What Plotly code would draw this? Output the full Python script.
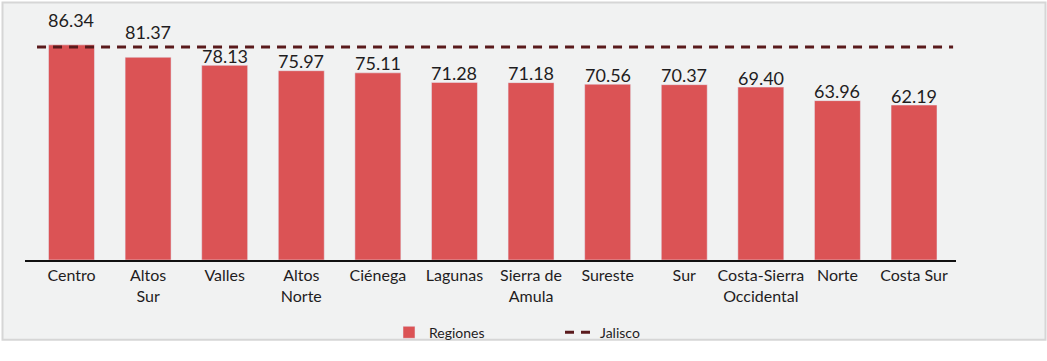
import plotly.graph_objects as go

# Regional values and the state-wide reference value
regions = ["Centro", "Altos<br>Sur", "Valles", "Altos<br>Norte", "Ciénega", "Lagunas",
           "Sierra de<br>Amula", "Sureste", "Sur", "Costa-Sierra<br>Occidental", "Norte", "Costa Sur"]
values = [86.34, 81.37, 78.13, 75.97, 75.11, 71.28, 71.18, 70.56, 70.37, 69.40, 63.96, 62.19]
jalisco = 85.49

FONT = "Lato, Roboto, sans-serif"
BAR = "#db5355"
LINE = "#5a1a1c"
BG = "#f1f2f2"
TXT = "#1f1d1e"

W, H = 1047, 361
ML, MR, MT, MB = 25, 91, 20, 87
plot_w = W - ML - MR
plot_h = H - MT - MB

idx = list(range(len(regions)))

fig = go.Figure()
fig.add_trace(go.Bar(
    x=idx, y=values, name="Regiones", marker_color=BAR, width=0.6,
    hoverinfo="skip",
))
fig.add_trace(go.Scatter(
    x=[-0.45, len(regions) - 0.49], y=[jalisco, jalisco], mode="lines", name="Jalisco",
    line=dict(color=LINE, width=3, dash="9px,7px"), hoverinfo="skip",
))

# value labels above each bar (first two lifted clear of the reference line)
for i, v in enumerate(values):
    fig.add_annotation(
        x=i, y=v, text=f"{v:.2f}", showarrow=False, xanchor="center", yanchor="bottom",
        yshift=12 if i < 2 else -3.5, font=dict(family=FONT, size=18, color=TXT),
    )

fig.add_annotation(
    x=len(regions) - 0.4, y=jalisco, text=f"<b>{jalisco:.2f}</b>", showarrow=False,
    xanchor="left", yanchor="middle", font=dict(family=FONT, size=19, color="#111111"),
)

# panel background with a light border
def px_to_paper_x(p):
    return (p - ML) / plot_w

def px_to_paper_y(p):
    return (H - MB - p) / plot_h

fig.add_shape(
    type="rect", xref="paper", yref="paper", layer="below",
    x0=px_to_paper_x(2.5), x1=px_to_paper_x(1045.5),
    y0=px_to_paper_y(358.5), y1=px_to_paper_y(1.5),
    fillcolor=BG, line=dict(color="#d6d6d6", width=2),
)

ppu = 2.637
fig.update_layout(
    width=W, height=H,
    margin=dict(l=ML, r=MR, t=MT, b=MB),
    paper_bgcolor="white", plot_bgcolor="rgba(0,0,0,0)",
    showlegend=True,
    legend=dict(
        orientation="h", x=px_to_paper_x(389), y=px_to_paper_y(334), xanchor="left", yanchor="top",
        font=dict(family=FONT, size=14, color=TXT), bgcolor="rgba(0,0,0,0)",
        entrywidth=126, traceorder="normal",
    ),
    xaxis=dict(
        range=[-0.607, 11.548], tickmode="array", tickvals=idx, ticktext=regions,
        showline=True, linecolor="#111111", linewidth=1.5, showgrid=False, zeroline=False,
        ticks="", tickfont=dict(family=FONT, size=16, color=TXT), fixedrange=True,
    ),
    yaxis=dict(
        range=[0, plot_h / ppu], visible=False, showgrid=False, zeroline=False, fixedrange=True,
    ),
)

fig.write_html("out.html")
